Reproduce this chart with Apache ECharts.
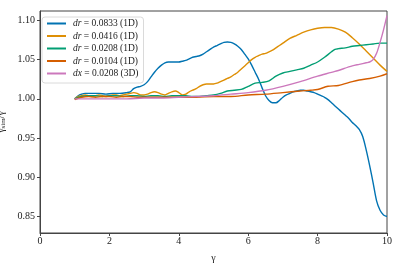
<!DOCTYPE html>
<html><head><meta charset="utf-8">
<script src="https://cdn.jsdelivr.net/npm/echarts@6/dist/echarts.min.js"></script>
<style>html,body{margin:0;padding:0;background:#fff}#c{width:403px;height:269px}</style>
</head><body><div id="c"></div>
<script>
// ---- data ----
const seriesNames = ['dr = 0.0833 (1D)', 'dr = 0.0416 (1D)', 'dr = 0.0208 (1D)', 'dr = 0.0104 (1D)', 'dx = 0.0208 (3D)'];
const xTicks = [0, 2, 4, 6, 8, 10];
const yTicks = [0.85, 0.90, 0.95, 1.00, 1.05, 1.10];

const g0833 = [1.0,1.1,1.2,1.3,1.5,1.7,1.9,2.1,2.3,2.5,2.6,2.7,2.8,2.9,3.0,3.1,3.2,3.3,3.4,3.5,3.6,3.7,3.8,3.9,4.0,4.1,4.2,4.3,4.4,4.5,4.6,4.7,4.8,4.9,5.0,5.1,5.2,5.3,5.4,5.5,5.6,5.7,5.8,5.9,6.0,6.1,6.2,6.3,6.4,6.5,6.6,6.7,6.8,6.9,7.0,7.1,7.2,7.3,7.4,7.5,7.6,7.7,7.8,7.9,8.0,8.1,8.2,8.3,8.4,8.5,8.6,8.7,8.8,8.9,9.0,9.1,9.2,9.3,9.4,9.5,9.6,9.7,9.8,9.9,10.0];
const v0833 = [1.000,1.004,1.006,1.007,1.007,1.007,1.006,1.007,1.007,1.008,1.009,1.013,1.015,1.016,1.018,1.022,1.028,1.034,1.039,1.043,1.046,1.047,1.047,1.047,1.047,1.048,1.049,1.051,1.053,1.054,1.055,1.057,1.060,1.063,1.066,1.068,1.070,1.072,1.0725,1.072,1.070,1.067,1.063,1.057,1.051,1.043,1.034,1.025,1.014,1.004,0.998,0.995,0.995,0.998,1.002,1.005,1.007,1.009,1.010,1.011,1.011,1.010,1.009,1.008,1.006,1.004,1.002,0.999,0.995,0.991,0.987,0.983,0.979,0.975,0.970,0.966,0.961,0.952,0.935,0.915,0.893,0.870,0.858,0.852,0.850];

const g0416 = [1.0,1.1,1.2,1.3,1.4,1.5,1.6,1.7,1.8,1.9,2.0,2.1,2.2,2.3,2.4,2.5,2.6,2.7,2.8,2.9,3.0,3.1,3.2,3.3,3.4,3.5,3.6,3.7,3.8,3.9,4.0,4.1,4.2,4.3,4.4,4.5,4.6,4.7,4.8,4.9,5.0,5.1,5.2,5.3,5.4,5.5,5.6,5.7,5.8,5.9,6.0,6.1,6.2,6.3,6.4,6.5,6.6,6.7,6.8,6.9,7.0,7.2,7.4,7.6,7.8,8.0,8.2,8.4,8.6,8.8,9.0,9.2,9.4,9.6,9.8,10.0];
const v0416 = [1.000,1.003,1.004,1.005,1.004,1.003,1.004,1.005,1.004,1.003,1.004,1.005,1.005,1.004,1.005,1.006,1.007,1.008,1.007,1.005,1.005,1.006,1.008,1.009,1.008,1.006,1.005,1.007,1.009,1.010,1.008,1.005,1.006,1.009,1.011,1.013,1.016,1.018,1.019,1.019,1.019,1.020,1.022,1.024,1.026,1.028,1.031,1.034,1.038,1.042,1.046,1.050,1.053,1.055,1.057,1.058,1.060,1.062,1.065,1.068,1.071,1.077,1.081,1.085,1.088,1.090,1.091,1.091,1.089,1.085,1.078,1.070,1.061,1.052,1.043,1.035];

const g0208 = [1.0,1.2,1.4,1.6,1.8,2.0,2.2,2.4,2.6,2.8,3.0,3.2,3.4,3.6,3.8,4.0,4.2,4.4,4.6,4.8,5.0,5.2,5.4,5.6,5.8,6.0,6.2,6.4,6.6,6.8,7.0,7.2,7.4,7.6,7.8,8.0,8.2,8.4,8.5,8.6,8.8,9.0,9.2,9.4,9.6,9.8,10.0];
const v0208 = [1.000,1.003,1.004,1.004,1.003,1.004,1.004,1.003,1.004,1.004,1.003,1.004,1.004,1.003,1.004,1.004,1.004,1.003,1.003,1.004,1.005,1.007,1.010,1.011,1.012,1.016,1.020,1.021,1.023,1.029,1.033,1.035,1.037,1.039,1.043,1.047,1.053,1.060,1.063,1.064,1.065,1.067,1.068,1.069,1.070,1.071,1.071];

const g0104 = [1.0,1.2,1.4,1.6,1.8,2.0,2.2,2.4,2.6,2.8,3.0,3.5,4.0,4.5,5.0,5.5,6.0,6.5,7.0,7.5,7.8,8.0,8.3,8.6,9.0,9.2,9.5,9.8,10.0];
const v0104 = [0.999,1.002,1.003,1.002,1.003,1.003,1.002,1.003,1.003,1.002,1.002,1.002,1.002,1.002,1.003,1.003,1.005,1.006,1.008,1.010,1.011,1.012,1.016,1.017,1.022,1.024,1.026,1.029,1.032];

const g3d = [1.0,1.5,2.0,2.5,3.0,3.5,4.0,4.5,5.0,5.5,6.0,6.5,7.0,7.5,8.0,8.5,9.0,9.2,9.4,9.5,9.6,9.7,9.8,9.9,10.0];
const v3d = [1.000,1.000,1.000,1.000,1.001,1.001,1.002,1.003,1.004,1.006,1.008,1.011,1.016,1.022,1.029,1.035,1.042,1.044,1.046,1.047,1.050,1.058,1.072,1.088,1.106];

const colors = ['#0173b2', '#de8f05', '#029e73', '#d55e00', '#cc78bc'];
const xs = [g0833, g0416, g0208, g0104, g3d];
const ys = [v0833, v0416, v0208, v0104, v3d];

const serif = 'Liberation Serif';
const chart = echarts.init(document.getElementById('c'), null, {renderer: 'canvas'});

function legendLabel(name) {
  const parts = name.split(' = ');
  return '{i|' + parts[0] + '} = ' + parts[1];
}

chart.setOption({
  animation: false,
  textStyle: {fontFamily: serif},
  grid: {left: 40, right: 16, top: 11, bottom: 36, containLabel: false, outerBoundsMode: 'none',
    show: true, borderColor: '#444', borderWidth: 1, backgroundColor: 'transparent'},
  legend: {
    left: 42, top: 17, orient: 'vertical',
    padding: [1, 5, 4, 5],
    itemWidth: 19, itemHeight: 2, itemGap: 1.5, icon: 'rect',
    backgroundColor: '#fff', borderColor: '#d0d0d0', borderWidth: 0.8, borderRadius: 3,
    data: seriesNames,
    formatter: legendLabel,
    textStyle: {fontFamily: serif, fontSize: 9.5, color: '#222', lineHeight: 11, padding: [0, 0, 0, 2],
      rich: {i: {fontFamily: serif, fontStyle: 'italic', fontSize: 9.5, color: '#222'}}}
  },
  xAxis: {
    type: 'value', min: 0, max: 10, interval: 2,
    name: 'γ', nameLocation: 'middle', nameGap: 20,
    nameTextStyle: {fontFamily: serif, fontSize: 10, color: '#222'},
    axisLine: {show: true, onZero: false, lineStyle: {color: '#444', width: 1}},
    axisTick: {show: true, inside: false, length: 3, lineStyle: {color: '#444'}},
    axisLabel: {fontFamily: serif, fontSize: 10, color: '#222', margin: 3},
    splitLine: {show: false}
  },
  yAxis: {
    type: 'value', min: 0.829, max: 1.112,
    name: '{a|γ}{b|sim}{a|/γ}', nameLocation: 'middle', nameGap: 26, nameRotate: 90,
    nameTextStyle: {fontFamily: serif, color: '#222',
      rich: {a: {fontFamily: serif, fontSize: 10, color: '#222'}, b: {fontFamily: serif, fontSize: 7, color: '#222', verticalAlign: 'bottom', padding: [4, 0, 0, 0]}}},
    axisLine: {show: true, onZero: false, lineStyle: {color: '#444', width: 1}},
    axisTick: {show: true, length: 3, customValues: yTicks, lineStyle: {color: '#444'}},
    axisLabel: {fontFamily: serif, fontSize: 10, color: '#222', margin: 5, customValues: yTicks,
      formatter: v => v.toFixed(2)},
    splitLine: {show: false}
  },
  series: seriesNames.map((n, k) => ({
    name: n, type: 'line', showSymbol: false, symbol: 'none', smooth: 0.3,
    lineStyle: {color: colors[k], width: 1.4}, itemStyle: {color: colors[k]},
    data: xs[k].map((x, i) => [x, ys[k][i]]),
    z: 2 + k
  }))
});
</script></body></html>
